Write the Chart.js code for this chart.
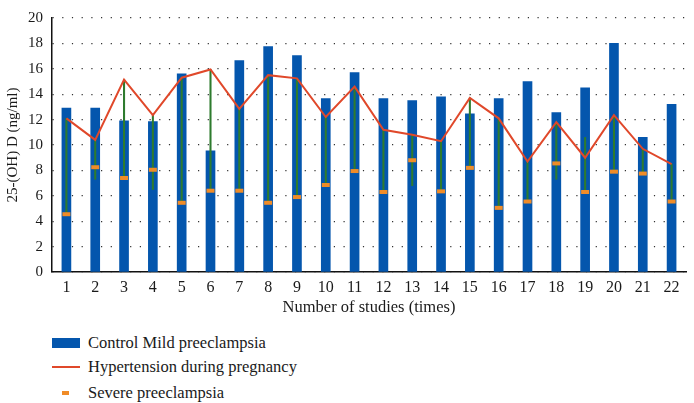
<!DOCTYPE html>
<html>
<head>
<meta charset="utf-8">
<script src="https://cdn.jsdelivr.net/npm/chart.js@4.4.1/dist/chart.umd.min.js"></script>
<style>
  html, body { margin: 0; padding: 0; background: #fff; }
  #wrap { position: relative; width: 694px; height: 403px; overflow: hidden; font-family: "Liberation Serif", "DejaVu Serif", serif; color: #1a1a1a; }
  #box { position: absolute; left: 0; top: 0; width: 694px; height: 322px; }
  .lg { position: absolute; left: 0; height: 24px; width: 400px; font-size: 16.5px; line-height: 24px; }
  .lg .mk { position: absolute; }
  .lg .tx { position: absolute; left: 88px; top: 0; white-space: nowrap; }
</style>
</head>
<body>
<div id="wrap">
  <div id="box"><canvas id="c"></canvas></div>
  <div id="legend"></div>
</div>
<script>
const studies = ['1', '2', '3', '4', '5', '6', '7', '8', '9', '10', '11',
  '12', '13', '14', '15', '16', '17', '18', '19', '20', '21', '22'];

// blue bars
const controlMild = [12.9, 12.9, 11.9, 11.85, 15.6, 9.55, 16.65, 17.75, 17.05, 13.65, 15.7,
  13.65, 13.5, 13.8, 12.45, 13.65, 15.0, 12.55, 14.5, 18.0, 10.6, 13.2];
// red line
const hypertension = [12.1, 10.4, 15.15, 12.35, 15.3, 15.95, 12.85, 15.5, 15.25, 12.2, 14.6,
  11.2, 10.8, 10.3, 13.7, 12.1, 8.7, 11.8, 9.0, 12.35, 9.7, 8.5];
// orange dashes
const severe = [4.55, 8.25, 7.4, 8.05, 5.45, 6.4, 6.4, 5.45, 5.9, 6.85, 7.95,
  6.3, 8.8, 6.35, 8.2, 5.05, 5.55, 8.55, 6.3, 7.9, 7.75, 5.55];
// unlabeled series only visible through the high-low lines
const unlabeled = [null, 7.3, null, 6.5, null, null, null, null, null, null, null,
  null, 6.8, null, null, null, null, 7.3, 10.6, null, null, null];

const hiLow = studies.map((_, i) => {
  const v = [hypertension[i], severe[i], unlabeled[i]].filter((x) => x !== null);
  return [Math.min(...v), Math.max(...v)];
});

const C = { bar: '#0456ad', red: '#e0482a', orange: '#f08c28', green: '#2e7b2e', text: '#1a1a1a' };
const family = '"Liberation Serif", "DejaVu Serif", serif';

new Chart(document.getElementById('c'), {
  data: {
    labels: studies,
    datasets: [
      { type: 'bar', label: 'Control Mild preeclampsia', data: controlMild, backgroundColor: C.bar,
        barThickness: 9, grouped: false, order: 4 },
      { type: 'bar', label: 'high-low', data: hiLow, backgroundColor: C.green,
        barThickness: 1.4, grouped: false, order: 3 },
      { type: 'line', label: 'Hypertension during pregnancy', data: hypertension, borderColor: C.red,
        backgroundColor: C.red, borderWidth: 2, pointRadius: 0, tension: 0, order: 2 },
      { type: 'line', label: 'Severe preeclampsia', data: severe, showLine: false,
        pointStyle: 'line', pointRadius: 4, pointBorderWidth: 4, borderColor: C.orange,
        backgroundColor: C.orange, order: 1 },
    ],
  },
  options: {
    responsive: true,
    maintainAspectRatio: false,
    animation: false,
    layout: { padding: { top: 6, right: 1, left: 0, bottom: 0 } },
    scales: {
      x: {
        offset: true,
        grid: { display: false, drawTicks: false },
        border: { display: true, color: '#111', width: 1.5 },
        ticks: { color: C.text, font: { family, size: 16 }, padding: 6, maxRotation: 0, autoSkip: false },
        title: { display: true, text: 'Number of studies (times)', color: C.text,
          font: { family, size: 16.5 }, padding: { top: 0, bottom: 4 } },
        afterFit: (s) => { s.height = 50; },
      },
      y: {
        min: 0,
        max: 20,
        grid: { color: '#333', lineWidth: 1.2, drawTicks: false },
        border: { display: true, color: '#111', width: 1.5, dash: [1.2, 8.5] },
        ticks: { color: C.text, font: { family, size: 15 }, stepSize: 2, padding: 9 },
        title: { display: true, text: '25-(OH) D (ng/ml)', color: C.text, font: { family, size: 15 } },
        afterFit: (s) => { s.width = 52; },
      },
    },
    plugins: {
      legend: { display: false },
      tooltip: { enabled: false },
    },
  },
});

// legend below the chart, one entry per row
const legendRows = [
  { text: 'Control Mild preeclampsia', top: 331, mk: { left: 52, top: 7, width: 28, height: 10, background: C.bar } },
  { text: 'Hypertension during pregnancy', top: 355, mk: { left: 52, top: 11, width: 28, height: 2, background: C.red } },
  { text: 'Severe preeclampsia', top: 381, mk: { left: 62, top: 10, width: 7, height: 4, background: C.orange } },
];
const lg = document.getElementById('legend');
legendRows.forEach((r) => {
  const row = document.createElement('div');
  row.className = 'lg';
  row.style.top = r.top + 'px';
  const mk = document.createElement('span');
  mk.className = 'mk';
  Object.entries(r.mk).forEach(([k, v]) => { mk.style[k] = typeof v === 'number' ? v + 'px' : v; });
  const tx = document.createElement('span');
  tx.className = 'tx';
  tx.textContent = r.text;
  row.appendChild(mk);
  row.appendChild(tx);
  lg.appendChild(row);
});
</script>
</body>
</html>
